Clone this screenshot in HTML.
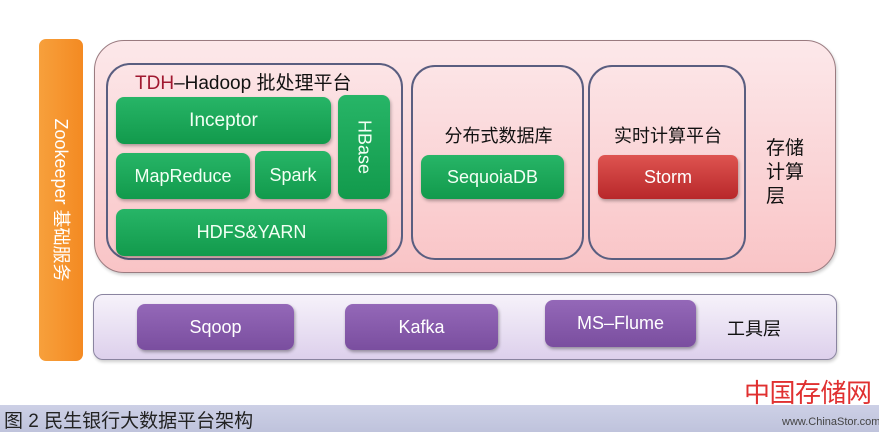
<!DOCTYPE html>
<html><head><meta charset="utf-8"><style>
*{margin:0;padding:0;box-sizing:border-box}
body{width:879px;height:432px;background:#fff;position:relative;overflow:hidden;font-family:"Liberation Sans","Noto Sans CJK SC",sans-serif}
.a{position:absolute}
.g{position:absolute;background:linear-gradient(#27b567,#129a4c);border-radius:8px;color:#f2fff4;font-size:18px;display:flex;align-items:center;justify-content:center;box-shadow:1px 2px 3px rgba(0,0,0,.3)}
.p{position:absolute;background:linear-gradient(#9468b8,#7a4e9f);border-radius:8px;color:#fff;font-size:18px;display:flex;align-items:center;justify-content:center;box-shadow:1px 2px 3px rgba(0,0,0,.35)}
.ob{position:absolute;border:2px solid #5a5e80;border-radius:24px}
.t{position:absolute;font-size:18px;color:#111;font-family:"Liberation Sans","Noto Sans CJK SC",sans-serif}
</style></head><body>
<div class="a" style="left:39px;top:39px;width:44px;height:322px;background:linear-gradient(90deg,#f7a03c,#f48a22);border-radius:7px"></div>
<div class="a" style="left:61px;top:200px;width:0;height:0">
<div style="position:absolute;left:-100px;top:-12px;width:200px;height:24px;line-height:24px;text-align:center;color:#fff;font-size:18px;white-space:nowrap;transform:rotate(90deg)">Zookeeper 基础服务</div></div>

<div class="a" style="left:94px;top:40px;width:742px;height:233px;background:linear-gradient(#fce8ea,#f9c4c6);border:1.5px solid #9a7b80;border-radius:30px;box-shadow:1px 2px 3px rgba(0,0,0,.2)"></div>
<div class="ob" style="left:106px;top:63px;width:297px;height:197px"></div>
<div class="ob" style="left:411px;top:65px;width:173px;height:195px"></div>
<div class="ob" style="left:588px;top:65px;width:158px;height:195px"></div>

<div class="t" style="left:135px;top:68px;font-size:19px"><span style="color:#a01830">TDH</span>–Hadoop 批处理平台</div>
<div class="g" style="left:116px;top:97px;width:215px;height:47px;font-size:19px">Inceptor</div>
<div class="g" style="left:116px;top:153px;width:134px;height:46px">MapReduce</div>
<div class="g" style="left:255px;top:151px;width:76px;height:48px">Spark</div>
<div class="g" style="left:338px;top:95px;width:52px;height:104px"><span style="writing-mode:vertical-rl">HBase</span></div>
<div class="g" style="left:116px;top:209px;width:271px;height:47px">HDFS&amp;YARN</div>

<div class="t" style="left:412px;top:122px;width:173px;text-align:center">分布式数据库</div>
<div class="g" style="left:421px;top:155px;width:143px;height:44px">SequoiaDB</div>
<div class="t" style="left:589px;top:122px;width:158px;text-align:center">实时计算平台</div>
<div class="a" style="left:598px;top:155px;width:140px;height:44px;background:linear-gradient(#de5450,#b8282a);border-radius:7px;color:#fff;font-size:18px;display:flex;align-items:center;justify-content:center;box-shadow:1px 2px 3px rgba(0,0,0,.3)">Storm</div>
<div class="t" style="left:766px;top:137px;width:42px;line-height:24px;font-size:19px">存储计算层</div>

<div class="a" style="left:93px;top:294px;width:744px;height:66px;background:linear-gradient(#f6f2fa,#ddd0ec);border:1.5px solid #8a84a0;border-radius:10px;box-shadow:1px 2px 3px rgba(0,0,0,.2)"></div>
<div class="p" style="left:137px;top:304px;width:157px;height:46px">Sqoop</div>
<div class="p" style="left:345px;top:304px;width:153px;height:46px">Kafka</div>
<div class="p" style="left:545px;top:300px;width:151px;height:47px">MS–Flume</div>
<div class="t" style="left:727px;top:315px">工具层</div>

<div class="a" style="left:0;top:405px;width:879px;height:27px;background:linear-gradient(#cdd0e6,#bfc3dc)"></div>
<div class="a" style="left:4px;top:406px;font-size:19px;color:#222;white-space:nowrap">图 2 民生银行大数据平台架构</div>
<div class="a" style="left:744px;top:378px;font-size:26px;color:#e03030;letter-spacing:-0.5px;line-height:30px;white-space:nowrap">中国存储网</div>
<div class="a" style="left:782px;top:416px;font-size:11px;color:#444;white-space:nowrap">www.ChinaStor.com</div>
</body></html>
